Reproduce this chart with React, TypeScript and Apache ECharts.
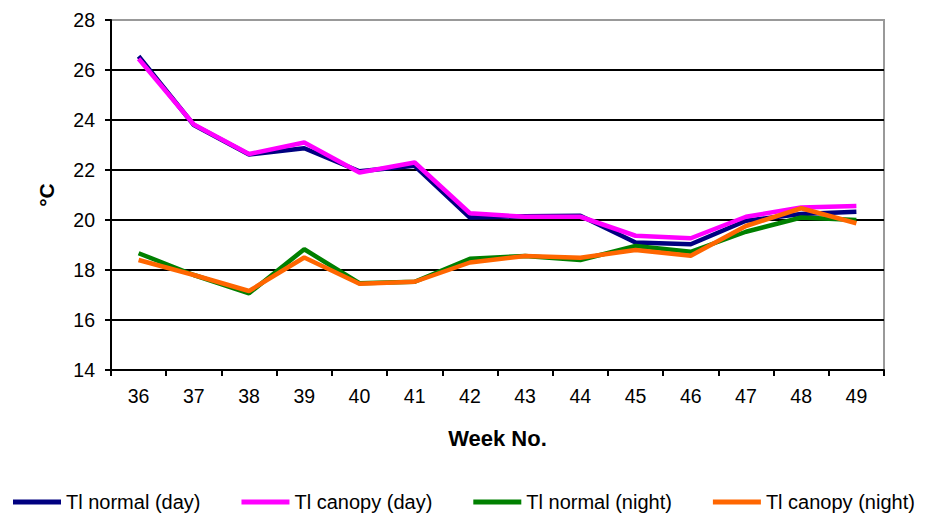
import React, { useEffect, useRef } from "react";
import * as echarts from "echarts";

const weeks = ["36", "37", "38", "39", "40", "41", "42", "43", "44", "45", "46", "47", "48", "49"];
const tlNormalDay = [26.55, 23.8, 22.62, 22.87, 21.95, 22.17, 20.1, 20.15, 20.17, 19.1, 19.03, 19.97, 20.24, 20.33];
const tlCanopyDay = [26.45, 23.82, 22.64, 23.1, 21.9, 22.3, 20.27, 20.13, 20.13, 19.37, 19.27, 20.13, 20.5, 20.56];
const tlNormalNight = [18.67, 17.8, 17.07, 18.83, 17.47, 17.53, 18.45, 18.56, 18.4, 18.96, 18.73, 19.53, 20.1, 20.0];
const tlCanopyNight = [18.4, 17.8, 17.16, 18.5, 17.45, 17.53, 18.3, 18.56, 18.49, 18.8, 18.57, 19.76, 20.47, 19.87];
const seriesNames = ["Tl normal (day)", "Tl canopy (day)", "Tl normal (night)", "Tl canopy (night)"];
const seriesColors = ["#000080", "#FF00FF", "#008000", "#FF6600"];

const FONT = "'Liberation Sans', Arial, sans-serif";

export default function App() {
  const ref = useRef<HTMLDivElement>(null);
  useEffect(() => {
    document.body.style.margin = "0";
    const chart = echarts.init(ref.current!, null, { renderer: "svg" });
    const data = [tlNormalDay, tlCanopyDay, tlNormalNight, tlCanopyNight];
    chart.setOption({
      animation: false,
      backgroundColor: "#ffffff",
      textStyle: { fontFamily: FONT },
      grid: {
        left: 111,
        right: 44,
        top: 20,
        bottom: 145,
        show: true,
        borderColor: "#999999",
        borderWidth: 2,
        backgroundColor: "transparent",
      },
      legend: {
        left: 8,
        top: 487,
        icon: "rect",
        itemWidth: 48,
        itemHeight: 5,
        itemGap: 41,
        textStyle: { fontSize: 20, color: "#000", fontFamily: FONT },
        data: seriesNames,
      },
      xAxis: {
        type: "category",
        data: weeks,
        boundaryGap: true,
        name: "Week No.",
        nameLocation: "middle",
        nameGap: 57,
        nameTextStyle: { fontSize: 22, fontWeight: "bold", color: "#000", fontFamily: FONT },
        axisLine: { lineStyle: { color: "#000", width: 2 } },
        axisTick: { show: true, length: 6, lineStyle: { color: "#000", width: 2 } },
        axisLabel: { fontSize: 19.5, color: "#000", margin: 16, fontFamily: FONT },
        splitLine: { show: false },
      },
      yAxis: {
        type: "value",
        min: 14,
        max: 28,
        interval: 2,
        name: "°C",
        nameLocation: "middle",
        nameGap: 54,
        nameRotate: 90,
        nameTextStyle: { fontSize: 21, fontWeight: "bold", color: "#000", fontFamily: FONT },
        axisLine: { show: true, lineStyle: { color: "#000", width: 2 } },
        axisTick: { show: true, length: 6, lineStyle: { color: "#000", width: 2 } },
        axisLabel: { fontSize: 19.5, color: "#000", margin: 16, fontFamily: FONT },
        splitLine: { show: true, showMaxLine: false, lineStyle: { color: "#000", width: 2 } },
      },
      series: seriesNames.map((name, i) => ({
        name,
        type: "line",
        data: data[i],
        symbol: "none",
        lineStyle: { color: seriesColors[i], width: 4.5 },
        itemStyle: { color: seriesColors[i] },
        z: 2 + i,
      })),
    });
    return () => chart.dispose();
  }, []);
  return <div ref={ref} style={{ width: 928, height: 515 }} />;
}
